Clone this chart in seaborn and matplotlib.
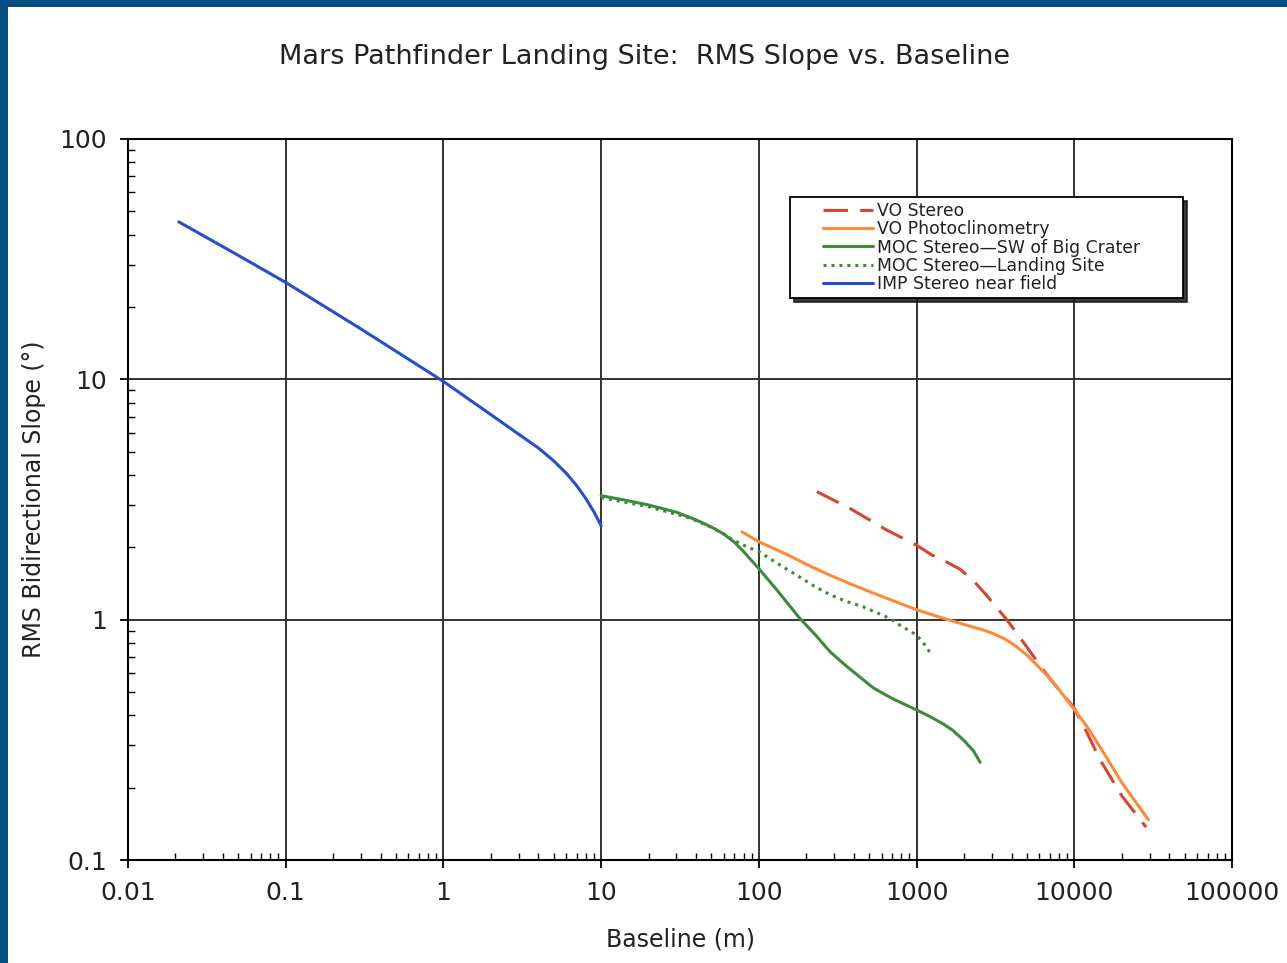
import matplotlib
matplotlib.use("Agg")
import matplotlib.pyplot as plt
import matplotlib.ticker as mticker
from matplotlib.patches import Rectangle
from matplotlib.legend_handler import HandlerLine2D
import seaborn as sns
import pandas as pd

# ---- data ----
imp_x = [0.021, 0.05, 0.1, 0.3, 1.0, 2.0, 3.0, 4.0, 5.0, 6.0, 7.0, 8.0, 9.0, 10.0]
imp_y = [45.2, 32.8, 25.3, 16.2, 9.8, 7.13, 5.91, 5.18, 4.58, 4.07, 3.61, 3.19, 2.81, 2.46]

moc_sw_x = [10, 15, 20, 30, 40, 50, 60, 70, 80, 100, 130, 180, 230, 283, 350, 400, 532,
            700, 1000, 1200, 1479, 1700, 2000, 2300, 2529]
moc_sw_y = [3.28, 3.12, 3.0, 2.8, 2.6, 2.43, 2.27, 2.1, 1.92, 1.63, 1.33, 1.02, 0.86,
            0.735, 0.65, 0.605, 0.52, 0.47, 0.421, 0.397, 0.368, 0.346, 0.314, 0.284, 0.255]

moc_ls_x = [10, 20, 37, 50, 60, 69, 84, 100, 130, 174, 220, 283, 360, 460, 560, 679,
            800, 1000, 1120, 1248]
moc_ls_y = [3.22, 2.95, 2.64, 2.42, 2.27, 2.14, 2.01, 1.92, 1.72, 1.53, 1.39, 1.27,
            1.19, 1.13, 1.07, 1.01, 0.94, 0.863, 0.79, 0.712]

vo_pc_x = [78, 100, 150, 200, 283, 400, 600, 1000, 1500, 2000, 2652, 3000, 3600, 4111,
           5000, 6694, 8000, 9862, 12000, 14580, 20000, 29500]
vo_pc_y = [2.32, 2.11, 1.87, 1.70, 1.53, 1.39, 1.25, 1.10, 1.01, 0.955, 0.905, 0.88,
           0.833, 0.789, 0.713, 0.588, 0.512, 0.428, 0.36, 0.295, 0.21, 0.147]

vo_st_x = [233, 379, 647, 1000, 1248, 1500, 1888, 2300, 2786, 3732, 5000, 6368, 8000,
           9862, 12000, 14580, 20000, 28500]
vo_st_y = [3.41, 2.90, 2.36, 2.04, 1.86, 1.76, 1.62, 1.45, 1.26, 1.0, 0.77, 0.617, 0.51,
           0.434, 0.34, 0.261, 0.185, 0.137]

x_ticks = [0.01, 0.1, 1, 10, 100, 1000, 10000, 100000]
x_tick_labels = ["0.01", "0.1", "1", "10", "100", "1000", "10000", "100000"]
y_ticks = [0.1, 1, 10, 100]
y_tick_labels = ["0.1", "1", "10", "100"]

title = "Mars Pathfinder Landing Site:  RMS Slope vs. Baseline"
xlabel = "Baseline (m)"
ylabel = "RMS Bidirectional Slope (°)"

sns.set_style("white")
plt.rcParams["font.family"] = ["DejaVu Sans"]

fig = plt.figure(figsize=(12.87, 9.63), dpi=100)
fig.patch.set_facecolor("#054c80")
fig.add_artist(Rectangle((8 / 1287, 0), 1, 1 - 7 / 963, transform=fig.transFigure,
                         facecolor="white", edgecolor="none", zorder=-10))

ax = fig.add_axes([128 / 1287, 1 - 860 / 963, (1232 - 128) / 1287, (860 - 139) / 963])

series = [
    ("VO Stereo", vo_st_x, vo_st_y, "#d9452e", (8, 4)),
    ("VO Photoclinometry", vo_pc_x, vo_pc_y, "#ff8a35", None),
    ("MOC Stereo\u2014SW of Big Crater", moc_sw_x, moc_sw_y, "#3d8a3d", None),
    ("MOC Stereo\u2014Landing Site", moc_ls_x, moc_ls_y, "#3d8a3d", (1, 1.6)),
    ("IMP Stereo near field", imp_x, imp_y, "#2450cc", None),
]

handles = []
for name, xs, ys, col, dash in series:
    df = pd.DataFrame({"x": xs, "y": ys})
    sns.lineplot(data=df, x="x", y="y", ax=ax, color=col, linewidth=2.2,
                 estimator=None, legend=False)
    ln = ax.lines[-1]
    if dash is not None:
        ln.set_dashes(dash)
    ln.set_label(name)
    ln.set_solid_joinstyle("round")
    handles.append(ln)

ax.set_xscale("log")
ax.set_yscale("log")
ax.set_xlim(0.01, 100000)
ax.set_ylim(0.1, 100)
ax.set_xticks(x_ticks)
ax.set_xticklabels(x_tick_labels)
ax.set_yticks(y_ticks)
ax.set_yticklabels(y_tick_labels)
ax.xaxis.set_minor_locator(mticker.LogLocator(base=10, subs=range(2, 10), numticks=20))
ax.yaxis.set_minor_locator(mticker.LogLocator(base=10, subs=range(2, 10), numticks=20))
ax.xaxis.set_minor_formatter(mticker.NullFormatter())
ax.yaxis.set_minor_formatter(mticker.NullFormatter())

ax.tick_params(axis="both", which="major", direction="out", length=6, width=1.3,
               color="black", labelsize=18, labelcolor="#222222")
ax.tick_params(axis="x", which="major", pad=9)
ax.tick_params(axis="y", which="major", pad=9)
ax.tick_params(axis="both", which="minor", direction="in", length=5, width=1.0,
               color="black")
ax.tick_params(top=False, right=False, which="both")
ax.tick_params(bottom=True, left=True, which="both")

ax.grid(True, which="major", color="#333333", linewidth=1.4)
ax.grid(False, which="minor")
ax.set_axisbelow(True)
for sp in ax.spines.values():
    sp.set_color("black")
    sp.set_linewidth(1.5)

ax.set_xlabel(xlabel, fontsize=17, labelpad=16, color="#222222")
ax.set_ylabel(ylabel, fontsize=17, labelpad=10, color="#222222")

fig.text(0.501, 1 - 57 / 963, title, ha="center", va="center", fontsize=19.5,
         color="#222222")

fs = 12.4
leg = ax.legend(handles=handles, loc="upper left",
                bbox_to_anchor=((790 - 128) / 1104, (860 - 300) / 721,
                                (1183 - 790) / 1104, (300 - 197) / 721),
                mode="expand", borderaxespad=0, fontsize=fs, frameon=True,
                fancybox=False, edgecolor="black", framealpha=1,
                shadow={"shade": 0.9, "alpha": 0.85, "ox": 3, "oy": -3},
                handlelength=4.5, handletextpad=0.23, labelspacing=0.01,
                borderpad=0.3,
                handler_map={ln: HandlerLine2D(xpad=1.6) for ln in handles})
leg.get_frame().set_linewidth(1.3)
for t in leg.get_texts():
    t.set_color("#222222")

fig.savefig("out.png", dpi=100)
